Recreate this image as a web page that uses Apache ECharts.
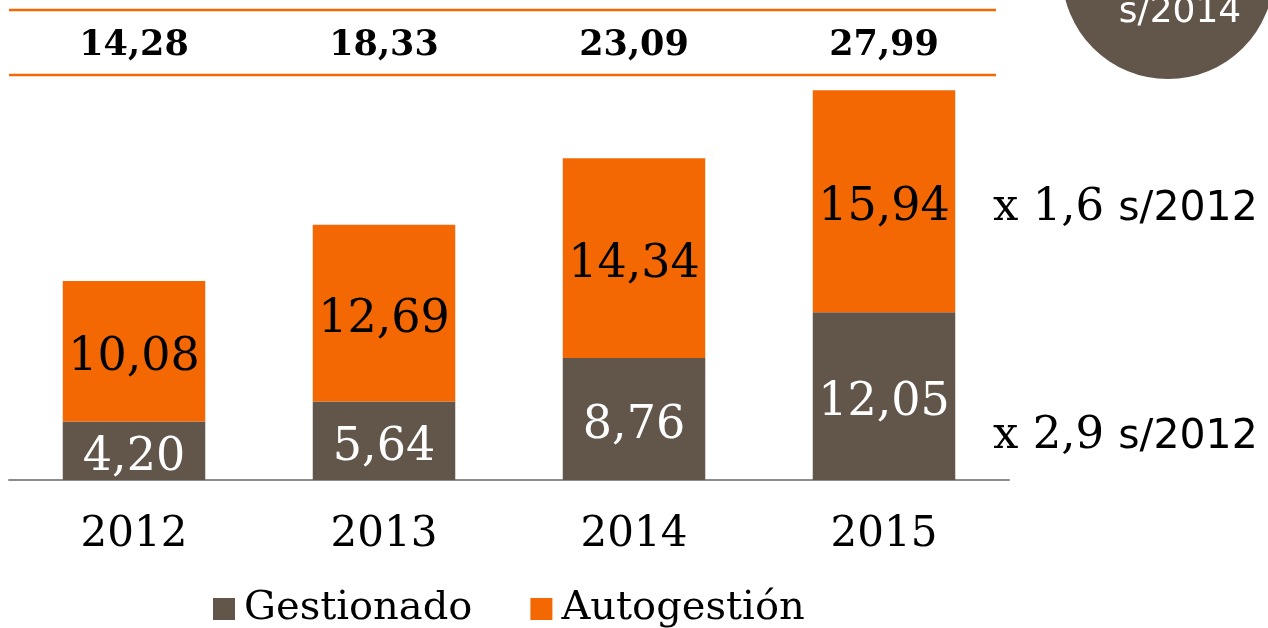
<!DOCTYPE html>
<html>
<head>
<meta charset="utf-8">
<script src="https://cdn.jsdelivr.net/npm/echarts@6/dist/echarts.min.js"></script>
<style>
  html, body { margin: 0; padding: 0; background: #fff; }
  #chart { width: 1268px; height: 628px; }
</style>
</head>
<body>
<div id="chart"></div>
<script>
// Years and the two stacked components (millions)
const years = ['2012', '2013', '2014', '2015'];
const gestionado = [4.20, 5.64, 8.76, 12.05];
const autogestion = [10.08, 12.69, 14.34, 15.94];
const totals = [14.28, 18.33, 23.09, 27.99];
const growthNotes = [
  { mult: 'x 1,6', ref: 's/2012' },
  { mult: 'x 2,9', ref: 's/2012' }
];
const badgeText = 's/2014';

const BROWN = '#62554a';
const ORANGE = '#f46803';
const SERIF = "'DejaVu Serif', serif";
const SANS = "'DejaVu Sans', 'Open Sans', sans-serif";

const fmt = v => v.toFixed(2).replace('.', ',');

const chart = echarts.init(document.getElementById('chart'), null, { renderer: 'canvas' });

const segLabel = color => ({
  show: true, position: 'inside', color: color,
  fontSize: 46, fontFamily: SERIF, offset: [0, 7],
  formatter: p => fmt(p.value)
});

const option = {
  animation: false,
  grid: { left: 9, right: 259, top: 90, bottom: 148 },
  xAxis: {
    type: 'category',
    data: years,
    axisLine: { lineStyle: { color: '#8c8c8c', width: 2 } },
    axisTick: { show: false },
    axisLabel: { color: '#000', fontSize: 42, fontFamily: SERIF, margin: 34 }
  },
  yAxis: {
    type: 'value',
    min: 0,
    max: 28,
    show: false,
    splitLine: { show: false }
  },
  legend: {
    top: 584,
    left: 208,
    itemWidth: 22,
    itemHeight: 22,
    itemGap: 58,
    icon: 'rect',
    textStyle: { fontSize: 40, fontFamily: SERIF, color: '#000', padding: [0, 0, 0, 4] },
    data: ['Gestionado', 'Autogestión']
  },
  series: [
    {
      name: 'Gestionado',
      type: 'bar',
      stack: 'total',
      barWidth: '57%',
      data: gestionado,
      itemStyle: { color: BROWN },
      label: segLabel('#fff')
    },
    {
      name: 'Autogestión',
      type: 'bar',
      stack: 'total',
      barWidth: '57%',
      data: autogestion,
      itemStyle: { color: ORANGE },
      label: segLabel('#000')
    }
  ]
};

chart.setOption(option);

// Decorations placed from the chart's own scales
const graphics = [];

// Orange rules framing the totals row
[10, 75].forEach(y => graphics.push({
  type: 'line', shape: { x1: 9, y1: y, x2: 996, y2: y },
  style: { stroke: ORANGE, lineWidth: 2.5 }, z: 10
}));

// Totals above each bar
years.forEach((yr, i) => {
  const x = chart.convertToPixel({ xAxisIndex: 0 }, yr);
  graphics.push({
    type: 'text', x: x, y: 46,
    style: {
      text: fmt(totals[i]), fill: '#000', fontSize: 35, fontWeight: 'bold',
      fontFamily: SERIF, align: 'center', verticalAlign: 'middle'
    }, z: 10
  });
});

// Growth notes beside the last bar
const noteY = [208, 436];
growthNotes.forEach((n, i) => {
  graphics.push({
    type: 'text', x: 993, y: noteY[i],
    style: {
      text: '{a|' + n.mult + '}{b|' + n.ref + '}',
      align: 'left', verticalAlign: 'middle',
      rich: {
        a: { fontSize: 45, fontFamily: SERIF, fill: '#000', color: '#000', padding: [0, 14, 0, 0] },
        b: { fontSize: 41, fontFamily: SANS, fill: '#000', color: '#000', padding: [3, 0, 0, 0] }
      }
    }, z: 10
  });
});

// Badge in the top-right corner
graphics.push({
  type: 'circle', shape: { cx: 1168, cy: -27, r: 106 },
  style: { fill: BROWN }, z: 5
});
graphics.push({
  type: 'text', x: 1180, y: 13,
  style: {
    text: badgeText, fill: '#fff', fontSize: 36, fontFamily: SANS,
    align: 'center', verticalAlign: 'middle'
  }, z: 6
});

chart.setOption({ graphic: graphics });
</script>
</body>
</html>
